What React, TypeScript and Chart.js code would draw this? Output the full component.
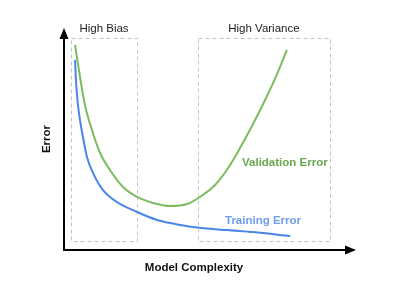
import React, { useEffect, useRef } from "react";
import { Chart, registerables } from "chart.js";

Chart.register(...registerables);

// Model complexity (x) and error (y), both on a 0..100 scale
const complexityValidation = [3.8, 5.5, 7.2, 9.6, 12.4, 15.8, 20.3, 25.1, 30.6, 36.4, 42.3, 46.7, 51.9, 56.4, 60.1, 64.6, 69.1, 72.9, 76.6];
const validationError = [92.8, 78.3, 65.6, 54.3, 43.9, 36.2, 28.5, 24.0, 21.3, 19.9, 20.8, 24.0, 29.4, 37.1, 45.2, 56.1, 67.9, 78.7, 90.5];
const complexityTraining = [3.8, 4.1, 4.8, 5.5, 6.2, 7.9, 10.0, 13.4, 18.2, 25.1, 32.0, 38.1, 44.3, 56.0, 65.0, 77.7];
const trainingError = [86.0, 76.9, 65.6, 58.8, 53.4, 42.1, 34.8, 27.1, 21.7, 17.2, 13.6, 11.8, 10.4, 9.0, 8.1, 6.3];

const seriesNames = ["Validation Error", "Training Error"];
const regionLabels = ["High Bias", "High Variance"];
const regionStart = [2.4, 46.0];
const regionEnd = [25.1, 91.4];
const regionLow = [4, 4];
const regionHigh = [96, 96];
const xTitle = "Model Complexity";
const yTitle = "Error";

const FONT = "'Liberation Sans', Arial, sans-serif";

const decorPlugin = {
  id: "decor",
  beforeDatasetsDraw(chart: any) {
    const { ctx, scales } = chart;
    const xs = scales.x;
    const ys = scales.y;
    ctx.save();
    ctx.strokeStyle = "#c4c4c4";
    ctx.lineWidth = 1;
    ctx.setLineDash([4, 3]);
    for (let i = 0; i < regionLabels.length; i++) {
      const x0 = Math.round(xs.getPixelForValue(regionStart[i])) + 0.5;
      const x1 = Math.round(xs.getPixelForValue(regionEnd[i])) + 0.5;
      const y0 = Math.round(ys.getPixelForValue(regionHigh[i])) + 0.5;
      const y1 = Math.round(ys.getPixelForValue(regionLow[i])) + 0.5;
      ctx.strokeRect(x0, y0, x1 - x0, y1 - y0);
    }
    ctx.restore();
  },
  afterDraw(chart: any) {
    const { ctx, chartArea, scales } = chart;
    const { left, top, right, bottom } = chartArea;
    const xs = scales.x;
    ctx.save();
    // region labels
    ctx.fillStyle = "#222";
    ctx.font = `11.5px ${FONT}`;
    ctx.textAlign = "center";
    ctx.textBaseline = "middle";
    for (let i = 0; i < regionLabels.length; i++) {
      const cx = (xs.getPixelForValue(regionStart[i]) + xs.getPixelForValue(regionEnd[i])) / 2;
      ctx.fillText(regionLabels[i], cx, top);
    }
    // axes with arrows
    ctx.strokeStyle = "#000";
    ctx.fillStyle = "#000";
    ctx.lineWidth = 2;
    ctx.beginPath();
    ctx.moveTo(left, bottom + 1);
    ctx.lineTo(left, top + 9);
    ctx.moveTo(left - 1, bottom);
    ctx.lineTo(right - 9, bottom);
    ctx.stroke();
    ctx.beginPath();
    ctx.moveTo(left, top - 1);
    ctx.lineTo(left - 4.5, top + 10);
    ctx.lineTo(left + 4.5, top + 10);
    ctx.closePath();
    ctx.fill();
    ctx.beginPath();
    ctx.moveTo(right + 1, bottom);
    ctx.lineTo(right - 10, bottom - 4.5);
    ctx.lineTo(right - 10, bottom + 4.5);
    ctx.closePath();
    ctx.fill();
    // axis titles
    ctx.font = `bold 11.5px ${FONT}`;
    ctx.fillStyle = "#111";
    ctx.textAlign = "center";
    ctx.textBaseline = "middle";
    ctx.fillText(xTitle, 194, bottom + 18);
    ctx.save();
    ctx.translate(47, 139);
    ctx.rotate(-Math.PI / 2);
    ctx.fillText(yTitle, 0, 0);
    ctx.restore();
    // series labels
    ctx.textAlign = "left";
    ctx.fillStyle = "#6aa84f";
    ctx.fillText(seriesNames[0], 242, 163);
    ctx.fillStyle = "#6d9eeb";
    ctx.fillText(seriesNames[1], 225, 221);
    ctx.restore();
  },
};

export default function App() {
  const ref = useRef<HTMLCanvasElement | null>(null);
  useEffect(() => {
    if (!ref.current) return;
    const chart = new Chart(ref.current, {
      type: "line",
      data: {
        datasets: [
          {
            label: seriesNames[0],
            data: complexityValidation.map((x, i) => ({ x, y: validationError[i] })),
            borderColor: "#7dbb60",
            borderWidth: 2,
            pointRadius: 0,
            cubicInterpolationMode: "monotone",
            fill: false,
          },
          {
            label: seriesNames[1],
            data: complexityTraining.map((x, i) => ({ x, y: trainingError[i] })),
            borderColor: "#4a86e8",
            borderWidth: 2,
            pointRadius: 0,
            cubicInterpolationMode: "monotone",
            fill: false,
          },
        ],
      },
      options: {
        animation: false,
        responsive: false,
        devicePixelRatio: 1,
        layout: { padding: { left: 64, right: 45, top: 29, bottom: 49 } },
        plugins: { legend: { display: false }, tooltip: { enabled: false } },
        scales: {
          x: { type: "linear", min: 0, max: 100, display: false },
          y: { type: "linear", min: 0, max: 100, display: false },
        },
      },
      plugins: [decorPlugin],
    });
    return () => chart.destroy();
  }, []);
  return (
    <div style={{ position: "absolute", left: 0, top: 0, width: 400, height: 299, background: "#fff" }}>
      <canvas ref={ref} width={400} height={299} style={{ display: "block" }} />
    </div>
  );
}
